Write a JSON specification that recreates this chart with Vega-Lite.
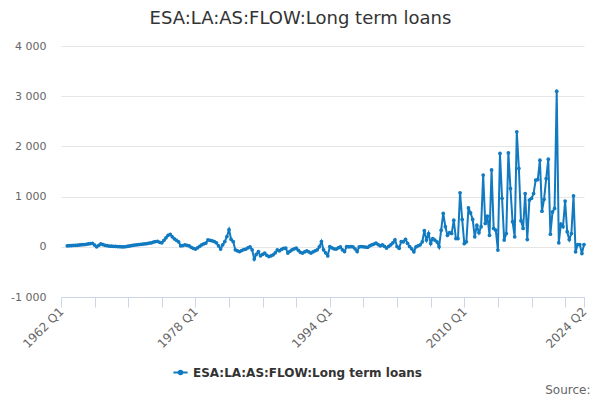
{
  "$schema": "https://vega.github.io/schema/vega-lite/v6.json",
  "width": 523,
  "height": 251,
  "autosize": "none",
  "padding": {"left": 61, "top": 46, "right": 16, "bottom": 103},
  "background": "white",
  "title": {
    "text": "ESA:LA:AS:FLOW:Long term loans",
    "anchor": "middle",
    "frame": "group",
    "dx": -22,
    "offset": 12,
    "fontSize": 18,
    "fontWeight": "normal",
    "color": "#333333",
    "font": "DejaVu Sans"
  },
  "data": {
    "values": [
      {"date": "1962-10-01", "value": 20},
      {"date": "1963-01-01", "value": 22}, {"date": "1963-04-01", "value": 25}, {"date": "1963-07-01", "value": 28}, {"date": "1963-10-01", "value": 30},
      {"date": "1964-01-01", "value": 32}, {"date": "1964-04-01", "value": 38}, {"date": "1964-07-01", "value": 42}, {"date": "1964-10-01", "value": 45},
      {"date": "1965-01-01", "value": 50}, {"date": "1965-04-01", "value": 58}, {"date": "1965-07-01", "value": 65}, {"date": "1965-10-01", "value": 70},
      {"date": "1966-01-01", "value": 35}, {"date": "1966-04-01", "value": 0}, {"date": "1966-07-01", "value": 30}, {"date": "1966-10-01", "value": 58},
      {"date": "1967-01-01", "value": 45}, {"date": "1967-04-01", "value": 30}, {"date": "1967-07-01", "value": 22}, {"date": "1967-10-01", "value": 15},
      {"date": "1968-01-01", "value": 12}, {"date": "1968-04-01", "value": 10}, {"date": "1968-07-01", "value": 8}, {"date": "1968-10-01", "value": 5},
      {"date": "1969-01-01", "value": 3}, {"date": "1969-04-01", "value": 0}, {"date": "1969-07-01", "value": 0}, {"date": "1969-10-01", "value": 5},
      {"date": "1970-01-01", "value": 12}, {"date": "1970-04-01", "value": 20}, {"date": "1970-07-01", "value": 28}, {"date": "1970-10-01", "value": 35},
      {"date": "1971-01-01", "value": 40}, {"date": "1971-04-01", "value": 45}, {"date": "1971-07-01", "value": 50}, {"date": "1971-10-01", "value": 55},
      {"date": "1972-01-01", "value": 60}, {"date": "1972-04-01", "value": 65}, {"date": "1972-07-01", "value": 75}, {"date": "1972-10-01", "value": 80},
      {"date": "1973-01-01", "value": 95}, {"date": "1973-04-01", "value": 105}, {"date": "1973-07-01", "value": 110}, {"date": "1973-10-01", "value": 90},
      {"date": "1974-01-01", "value": 80}, {"date": "1974-04-01", "value": 130}, {"date": "1974-07-01", "value": 180}, {"date": "1974-10-01", "value": 230},
      {"date": "1975-01-01", "value": 250}, {"date": "1975-04-01", "value": 200}, {"date": "1975-07-01", "value": 160}, {"date": "1975-10-01", "value": 130},
      {"date": "1976-01-01", "value": 100}, {"date": "1976-04-01", "value": 20}, {"date": "1976-07-01", "value": 25}, {"date": "1976-10-01", "value": 40},
      {"date": "1977-01-01", "value": 30}, {"date": "1977-04-01", "value": 20}, {"date": "1977-07-01", "value": -10}, {"date": "1977-10-01", "value": -30},
      {"date": "1978-01-01", "value": -45}, {"date": "1978-04-01", "value": -20}, {"date": "1978-07-01", "value": 10}, {"date": "1978-10-01", "value": 40},
      {"date": "1979-01-01", "value": 60}, {"date": "1979-04-01", "value": 75}, {"date": "1979-07-01", "value": 140}, {"date": "1979-10-01", "value": 130},
      {"date": "1980-01-01", "value": 120}, {"date": "1980-04-01", "value": 105}, {"date": "1980-07-01", "value": 80}, {"date": "1980-10-01", "value": 20},
      {"date": "1981-01-01", "value": -45}, {"date": "1981-04-01", "value": 40}, {"date": "1981-07-01", "value": 105}, {"date": "1981-10-01", "value": 205},
      {"date": "1982-01-01", "value": 340}, {"date": "1982-04-01", "value": 150}, {"date": "1982-07-01", "value": 105}, {"date": "1982-10-01", "value": -60},
      {"date": "1983-01-01", "value": -80}, {"date": "1983-04-01", "value": -95}, {"date": "1983-07-01", "value": -75}, {"date": "1983-10-01", "value": -55},
      {"date": "1984-01-01", "value": -45}, {"date": "1984-04-01", "value": -20}, {"date": "1984-07-01", "value": 0}, {"date": "1984-10-01", "value": -60},
      {"date": "1985-01-01", "value": -245}, {"date": "1985-04-01", "value": -150}, {"date": "1985-07-01", "value": -95}, {"date": "1985-10-01", "value": -180},
      {"date": "1986-01-01", "value": -150}, {"date": "1986-04-01", "value": -125}, {"date": "1986-07-01", "value": -170}, {"date": "1986-10-01", "value": -195},
      {"date": "1987-01-01", "value": -180}, {"date": "1987-04-01", "value": -160}, {"date": "1987-07-01", "value": -120}, {"date": "1987-10-01", "value": -60},
      {"date": "1988-01-01", "value": -80}, {"date": "1988-04-01", "value": -50}, {"date": "1988-07-01", "value": -30}, {"date": "1988-10-01", "value": -25},
      {"date": "1989-01-01", "value": -125}, {"date": "1989-04-01", "value": -90}, {"date": "1989-07-01", "value": -60}, {"date": "1989-10-01", "value": -40},
      {"date": "1990-01-01", "value": -25}, {"date": "1990-04-01", "value": -70}, {"date": "1990-07-01", "value": -110}, {"date": "1990-10-01", "value": -125},
      {"date": "1991-01-01", "value": -100}, {"date": "1991-04-01", "value": -80}, {"date": "1991-07-01", "value": -100}, {"date": "1991-10-01", "value": -125},
      {"date": "1992-01-01", "value": -100}, {"date": "1992-04-01", "value": -80}, {"date": "1992-07-01", "value": -60}, {"date": "1992-10-01", "value": 0},
      {"date": "1993-01-01", "value": 105}, {"date": "1993-04-01", "value": -60}, {"date": "1993-07-01", "value": -120}, {"date": "1993-10-01", "value": -180},
      {"date": "1994-01-01", "value": 5}, {"date": "1994-04-01", "value": -20}, {"date": "1994-07-01", "value": -40}, {"date": "1994-10-01", "value": -45},
      {"date": "1995-01-01", "value": -20}, {"date": "1995-04-01", "value": 0}, {"date": "1995-07-01", "value": -60}, {"date": "1995-10-01", "value": -95},
      {"date": "1996-01-01", "value": 5}, {"date": "1996-04-01", "value": 0}, {"date": "1996-07-01", "value": 2}, {"date": "1996-10-01", "value": 0},
      {"date": "1997-01-01", "value": -40}, {"date": "1997-04-01", "value": -95}, {"date": "1997-07-01", "value": 0}, {"date": "1997-10-01", "value": 5},
      {"date": "1998-01-01", "value": 0}, {"date": "1998-04-01", "value": -5}, {"date": "1998-07-01", "value": -10}, {"date": "1998-10-01", "value": 20},
      {"date": "1999-01-01", "value": 40}, {"date": "1999-04-01", "value": 55}, {"date": "1999-07-01", "value": 75}, {"date": "1999-10-01", "value": 45},
      {"date": "2000-01-01", "value": 20}, {"date": "2000-04-01", "value": 40}, {"date": "2000-07-01", "value": 10}, {"date": "2000-10-01", "value": -25},
      {"date": "2001-01-01", "value": 10}, {"date": "2001-04-01", "value": 40}, {"date": "2001-07-01", "value": 80}, {"date": "2001-10-01", "value": 140},
      {"date": "2002-01-01", "value": 5}, {"date": "2002-04-01", "value": -30}, {"date": "2002-07-01", "value": 105}, {"date": "2002-10-01", "value": 100},
      {"date": "2003-01-01", "value": 150}, {"date": "2003-04-01", "value": 70}, {"date": "2003-07-01", "value": 5}, {"date": "2003-10-01", "value": -40},
      {"date": "2004-01-01", "value": -100}, {"date": "2004-04-01", "value": 0}, {"date": "2004-07-01", "value": 20}, {"date": "2004-10-01", "value": 40},
      {"date": "2005-01-01", "value": 100}, {"date": "2005-04-01", "value": 320}, {"date": "2005-07-01", "value": 135}, {"date": "2005-10-01", "value": 265},
      {"date": "2006-01-01", "value": 65}, {"date": "2006-04-01", "value": 165}, {"date": "2006-07-01", "value": 135}, {"date": "2006-10-01", "value": 100},
      {"date": "2007-01-01", "value": 0}, {"date": "2007-04-01", "value": 330}, {"date": "2007-07-01", "value": 665}, {"date": "2007-10-01", "value": 400},
      {"date": "2008-01-01", "value": 230}, {"date": "2008-04-01", "value": 280}, {"date": "2008-07-01", "value": 265}, {"date": "2008-10-01", "value": 530},
      {"date": "2009-01-01", "value": 165}, {"date": "2009-04-01", "value": 165}, {"date": "2009-07-01", "value": 1075}, {"date": "2009-10-01", "value": 545},
      {"date": "2010-01-01", "value": 65}, {"date": "2010-04-01", "value": 100}, {"date": "2010-07-01", "value": 775}, {"date": "2010-10-01", "value": 675},
      {"date": "2011-01-01", "value": 545}, {"date": "2011-04-01", "value": 200}, {"date": "2011-07-01", "value": 430}, {"date": "2011-10-01", "value": 280},
      {"date": "2012-01-01", "value": 400}, {"date": "2012-04-01", "value": 1430}, {"date": "2012-07-01", "value": 465}, {"date": "2012-10-01", "value": 610},
      {"date": "2013-01-01", "value": 230}, {"date": "2013-04-01", "value": 1530}, {"date": "2013-07-01", "value": 365}, {"date": "2013-10-01", "value": 330},
      {"date": "2014-01-01", "value": -65}, {"date": "2014-04-01", "value": 1860}, {"date": "2014-07-01", "value": 965}, {"date": "2014-10-01", "value": 135},
      {"date": "2015-01-01", "value": 265}, {"date": "2015-04-01", "value": 1870}, {"date": "2015-07-01", "value": 1160}, {"date": "2015-10-01", "value": 500},
      {"date": "2016-01-01", "value": 200}, {"date": "2016-04-01", "value": 2290}, {"date": "2016-07-01", "value": 1560}, {"date": "2016-10-01", "value": 520},
      {"date": "2017-01-01", "value": 365}, {"date": "2017-04-01", "value": 1060}, {"date": "2017-07-01", "value": 145}, {"date": "2017-10-01", "value": 930},
      {"date": "2018-01-01", "value": 965}, {"date": "2018-04-01", "value": 1060}, {"date": "2018-07-01", "value": 1330}, {"date": "2018-10-01", "value": 1340},
      {"date": "2019-01-01", "value": 1725}, {"date": "2019-04-01", "value": 710}, {"date": "2019-07-01", "value": 945}, {"date": "2019-10-01", "value": 1360},
      {"date": "2020-01-01", "value": 1745}, {"date": "2020-04-01", "value": 250}, {"date": "2020-07-01", "value": 695}, {"date": "2020-10-01", "value": 765},
      {"date": "2021-01-01", "value": 3100}, {"date": "2021-04-01", "value": 80}, {"date": "2021-07-01", "value": 450}, {"date": "2021-10-01", "value": 400},
      {"date": "2022-01-01", "value": 910}, {"date": "2022-04-01", "value": 300}, {"date": "2022-07-01", "value": 145}, {"date": "2022-10-01", "value": 265},
      {"date": "2023-01-01", "value": 1015}, {"date": "2023-04-01", "value": -100}, {"date": "2023-07-01", "value": 45}, {"date": "2023-10-01", "value": 45},
      {"date": "2024-01-01", "value": -135}, {"date": "2024-04-01", "value": 45}
    ]
  },
  "mark": {
    "type": "line",
    "strokeWidth": 2,
    "point": {"filled": true, "size": 14}
  },
  "encoding": {
    "x": {
      "field": "date",
      "type": "temporal",
      "scale": {
        "type": "utc",
        "nice": false,
        "domain": [
          {"year": 1962, "month": 1, "date": 1, "utc": true},
          {"year": 2024, "month": 4, "date": 1, "utc": true}
        ]
      },
      "axis": {
        "values": [
          {"year": 1962, "month": 1, "date": 1, "utc": true},
          {"year": 1966, "month": 1, "date": 1, "utc": true},
          {"year": 1970, "month": 1, "date": 1, "utc": true},
          {"year": 1974, "month": 1, "date": 1, "utc": true},
          {"year": 1978, "month": 1, "date": 1, "utc": true},
          {"year": 1982, "month": 1, "date": 1, "utc": true},
          {"year": 1986, "month": 1, "date": 1, "utc": true},
          {"year": 1990, "month": 1, "date": 1, "utc": true},
          {"year": 1994, "month": 1, "date": 1, "utc": true},
          {"year": 1998, "month": 1, "date": 1, "utc": true},
          {"year": 2002, "month": 1, "date": 1, "utc": true},
          {"year": 2006, "month": 1, "date": 1, "utc": true},
          {"year": 2010, "month": 1, "date": 1, "utc": true},
          {"year": 2014, "month": 1, "date": 1, "utc": true},
          {"year": 2018, "month": 1, "date": 1, "utc": true},
          {"year": 2022, "month": 1, "date": 1, "utc": true},
          {"year": 2024, "month": 4, "date": 1, "utc": true}
        ],
        "labelExpr": "indexof(['1962', '1978', '1994', '2010', '2024'], utcFormat(datum.value, '%Y')) >= 0 ? utcFormat(datum.value, '%Y Q%q') : ''",
        "labelAngle": -45,
        "labelAlign": "right",
        "labelBaseline": "middle",
        "labelPadding": 2,
        "labelFontSize": 12,
        "labelOverlap": false,
        "labelBound": false,
        "labelFlush": false,
        "grid": false,
        "domainColor": "#ccd6eb",
        "tickColor": "#ccd6eb",
        "tickSize": 10,
        "title": "Source:",
        "titleX": 529,
        "titleY": 96,
        "titleAlign": "right",
        "titleBaseline": "alphabetic",
        "titleFontWeight": "normal",
        "titleFontSize": 12,
        "titleColor": "#666666"
      }
    },
    "y": {
      "field": "value",
      "type": "quantitative",
      "scale": {"domain": [-1000, 4000], "nice": false},
      "axis": {
        "values": [-1000, 0, 1000, 2000, 3000, 4000],
        "labelExpr": "(datum.value < 0 ? '-' : '') + replace(format(abs(datum.value), ','), ',', ' ')",
        "domain": false,
        "ticks": false,
        "labelPadding": 15,
        "gridColor": "#e6e6e6",
        "title": null
      }
    },
    "color": {
      "datum": "ESA:LA:AS:FLOW:Long term loans",
      "scale": {"range": ["#117ac0"]},
      "legend": {
        "orient": "none",
        "legendX": 111,
        "legendY": 318,
        "title": null,
        "symbolType": "M-1,0H1M-0.25,0A0.25,0.25 0 1,1 0.25,0A0.25,0.25 0 1,1 -0.25,0",
        "symbolStrokeWidth": 2,
        "symbolSize": 200,
        "symbolFillColor": "#117ac0",
        "labelLimit": 0,
        "labelFontSize": 12,
        "labelFontWeight": "bold",
        "labelColor": "#333333",
        "labelFont": "DejaVu Sans"
      }
    }
  },
  "config": {
    "view": {"stroke": null},
    "font": "DejaVu Sans",
    "axis": {
      "labelFont": "DejaVu Sans",
      "labelFontSize": 11,
      "labelColor": "#666666",
      "titleFont": "DejaVu Sans"
    }
  }
}
